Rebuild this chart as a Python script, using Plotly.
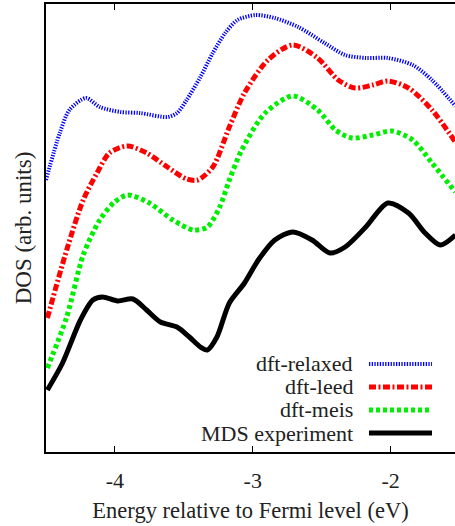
import plotly.graph_objects as go

# ---- data (energy in eV, DOS in arbitrary units) ----
x_relaxed = [-4.50, -4.40, -4.33, -4.21, -4.11, -3.96, -3.82, -3.62, -3.55, -3.48, -3.38, -3.29,
             -3.20, -3.11, -2.98, -2.84, -2.67, -2.48, -2.33, -2.18, -2.02, -1.84, -1.70, -1.53]
y_relaxed = [2.72, 3.19, 3.42, 3.54, 3.45, 3.40, 3.39, 3.35, 3.39, 3.52, 3.75, 3.99,
             4.19, 4.32, 4.37, 4.34, 4.25, 4.09, 3.97, 3.94, 3.94, 3.87, 3.72, 3.46]

x_leed = [-4.49, -4.35, -4.23, -4.13, -4.04, -3.91, -3.77, -3.62, -3.48, -3.40, -3.29, -3.17,
          -3.06, -2.89, -2.71, -2.53, -2.38, -2.26, -2.13, -2.02, -1.87, -1.70, -1.53]
y_leed = [1.34, 2.02, 2.52, 2.79, 2.99, 3.06, 2.99, 2.85, 2.73, 2.72, 2.85, 3.25,
          3.59, 3.92, 4.07, 3.94, 3.72, 3.64, 3.67, 3.71, 3.64, 3.42, 3.10]

x_meis = [-4.49, -4.35, -4.23, -4.11, -4.01, -3.91, -3.75, -3.58, -3.43, -3.33, -3.24, -3.17,
          -3.08, -2.91, -2.71, -2.53, -2.40, -2.28, -2.13, -1.99, -1.84, -1.70, -1.53]
y_meis = [0.84, 1.35, 1.97, 2.32, 2.49, 2.57, 2.49, 2.32, 2.22, 2.25, 2.45, 2.72,
          3.02, 3.39, 3.56, 3.42, 3.22, 3.14, 3.17, 3.21, 3.12, 2.89, 2.60]

x_mds = [-4.49, -4.38, -4.25, -4.16, -4.09, -3.98, -3.87, -3.77, -3.67, -3.55, -3.46, -3.38,
         -3.33, -3.26, -3.17, -3.06, -2.96, -2.84, -2.71, -2.57, -2.44, -2.33, -2.18, -2.02,
         -1.87, -1.75, -1.64, -1.53]
y_mds = [0.62, 0.89, 1.32, 1.52, 1.55, 1.51, 1.53, 1.42, 1.30, 1.25, 1.15, 1.05,
         1.02, 1.15, 1.49, 1.69, 1.92, 2.12, 2.20, 2.12, 1.99, 2.05, 2.25, 2.49,
         2.39, 2.19, 2.07, 2.17]

series_names = ["dft-relaxed", "dft-leed", "dft-meis", "MDS experiment"]
x_ticks = [-4, -3, -2]
x_tick_labels = ["-4", "-3", "-2"]

FONT = "Liberation Serif"
TXT = "#222222"

styles = [
    dict(color="#0000ff", width=4, dash="1.3px,1.4px"),
    dict(color="#ff0000", width=5, dash="7px,2.5px,2px,2.5px"),
    dict(color="#00ee00", width=5, dash="4px,3px"),
    dict(color="#000000", width=5, dash="solid"),
]

fig = go.Figure()
for xs, ys, name, st in zip([x_relaxed, x_leed, x_meis, x_mds],
                            [y_relaxed, y_leed, y_meis, y_mds],
                            series_names, styles):
    fig.add_trace(go.Scatter(x=xs, y=ys, mode="lines", name=name,
                             line=dict(color=st["color"], width=st["width"], dash=st["dash"],
                                       shape="spline", smoothing=0.8),
                             showlegend=False))

# legend (text left of the sample, gnuplot style)
leg_y = [0.1965, 0.1451, 0.0938, 0.0424]
for name, st, ly in zip(series_names, styles, leg_y):
    fig.add_annotation(x=0.7555, y=ly, xref="paper", yref="paper", text=name,
                       showarrow=False, xanchor="right", yanchor="middle",
                       font=dict(family=FONT, size=22, color=TXT))
    fig.add_shape(type="line", xref="paper", yref="paper", x0=0.7897, x1=0.9438, y0=ly, y1=ly,
                  line=dict(color=st["color"], width=st["width"], dash=st["dash"]))

fig.update_layout(
    width=455, height=526,
    margin=dict(l=46, r=0, t=4, b=74),
    paper_bgcolor="white", plot_bgcolor="white",
    font=dict(family=FONT, size=22, color=TXT),
    xaxis=dict(range=[-4.5, -1.533], tickvals=x_ticks, ticktext=x_tick_labels,
               ticks="inside", ticklen=6, tickcolor="#000", tickwidth=1,
               showline=True, linecolor="#000", linewidth=1.5, mirror="ticks",
               showgrid=False, zeroline=False, ticklabelstandoff=8,
               tickfont=dict(family=FONT, size=22, color=TXT),
               title=dict(text="Energy relative to Fermi level (eV)", standoff=10,
                          font=dict(family=FONT, size=22.5, color=TXT))),
    yaxis=dict(range=[0, 4.48], showticklabels=False, ticks="",
               showline=True, linecolor="#000", linewidth=1.5, mirror=False,
               showgrid=False, zeroline=False,
               title=dict(text="DOS (arb. units)", standoff=6,
                          font=dict(family=FONT, size=23, color=TXT))),
)

fig.write_html("out.html")
